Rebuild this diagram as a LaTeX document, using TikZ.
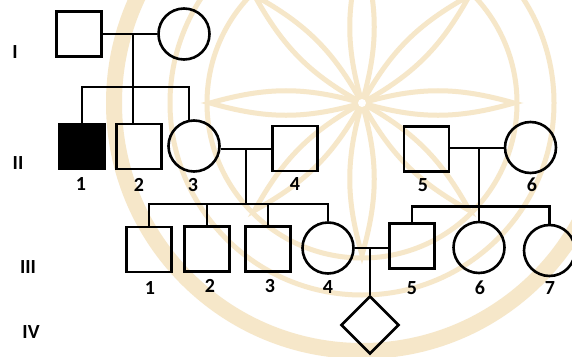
\documentclass[tikz,border=0pt]{standalone}
\usepackage{fontspec}
\setmainfont{Carlito}
\usetikzlibrary{shapes.geometric,calc}
\definecolor{wm}{RGB}{246,231,201}
\begin{document}
\begin{tikzpicture}[x=1pt,y=-1pt,
  ped/.style={draw=black,line width=2.6pt},
  male/.style={ped,rectangle,minimum size=45pt,inner sep=0pt},
  female/.style={ped,circle,minimum size=51pt,inner sep=0pt},
  unk/.style={ped,diamond,minimum size=58pt,inner sep=0pt},
  conn/.style={draw=black,line width=2.6pt},
  lab/.style={font=\fontsize{20}{22}\selectfont\bfseries,inner sep=0pt},
  wmline/.style={draw=wm,line width=5pt}]
\useasboundingbox (0,0) rectangle (572,356);
\clip (0,0) rectangle (572,356);
\fill[white] (0,0) rectangle (572,356);
% watermark
\coordinate (wc) at (362,103);
\foreach \a in {0,45,...,315}
  \draw[wmline] (wc) to[bend left=16] ($(wc)+(\a:152pt)$) to[bend left=16] (wc);
\draw[wmline] (wc) circle (155pt);
\draw[wmline] (wc) circle (192pt);
\draw[wmline,line width=16pt] (wc) circle (248pt);
\fill[white] (wc) circle (4pt);
% generation I
\node[male] (I1) at (79,34) {};
\node[female] (I2) at (184,34) {};
% generation II
\node[male,fill=black] (II1) at (82,146.5) {};
\node[male] (II2) at (139,146.5) {};
\node[female] (II3) at (194,146) {};
\node[male] (II4) at (295,148.5) {};
\node[male] (II5) at (426.5,149) {};
\node[female] (II6) at (530.5,147.5) {};
% generation III
\node[male] (III1) at (149,249.5) {};
\node[male] (III2) at (207,249) {};
\node[male] (III3) at (268,249) {};
\node[female] (III4) at (328,248) {};
\node[male] (III5) at (412,246) {};
\node[female] (III6) at (479,247.5) {};
\node[female] (III7) at (549.5,250.5) {};
% generation IV
\node[unk] (IV1) at (370,325) {};
% connectors
\coordinate (m1) at (133,34);
\coordinate (s1) at (133,87);
\coordinate (t3) at (189,120);
\draw[conn] (I1) -- (I2);
\draw[conn] (m1) -- (s1);
\draw[conn] (II1.north) |- (s1) -| (t3);
\draw[conn] (s1) -- (s1 |- II2.north);
\coordinate (m2) at (246,149);
\coordinate (s2) at (246,204);
\draw[conn] (m2 -| II3.east) -- (m2 -| II4.west);
\draw[conn] (m2) -- (s2);
\draw[conn] (III1.north) |- (s2) -| (III4.north);
\draw[conn] (III2.north) -- (III2.north |- s2);
\draw[conn] (III3.north) -- (III3.north |- s2);
\coordinate (m3) at (479,148);
\coordinate (s3) at (479,206.5);
\draw[conn] (m3 -| II5.east) -- (m3 -| II6.west);
\draw[conn] (m3) -- (s3);
\draw[conn] (III5.north) |- (s3) -| (III7.north);
\draw[conn] (s3) -- (III6.north);
\coordinate (m4) at (370,248);
\draw[conn] (m4 -| III4.east) -- (m4 -| III5.west);
\draw[conn] (m4) -- (IV1.north);
% generation labels
\node[lab] (gI) at (15,52) {I};
\node[lab] (gII) at (18,163) {II};
\node[lab] (gIII) at (28,267) {III};
\node[lab] (gIV) at (31,332) {IV};
% individual labels
\node[lab] (lII1) at (81,184.5) {1};
\node[lab] (lII2) at (139,184.5) {2};
\node[lab] (lII3) at (193,185) {3};
\node[lab] (lII4) at (295,184.5) {4};
\node[lab] (lII5) at (423,185) {5};
\node[lab] (lII6) at (532,185) {6};
\node[lab] (lIII1) at (150,288) {1};
\node[lab] (lIII2) at (210,286) {2};
\node[lab] (lIII3) at (270,286) {3};
\node[lab] (lIII4) at (328,287) {4};
\node[lab] (lIII5) at (412,288) {5};
\node[lab] (lIII6) at (480,288) {6};
\node[lab] (lIII7) at (550,288) {7};
\end{tikzpicture}
\end{document}
